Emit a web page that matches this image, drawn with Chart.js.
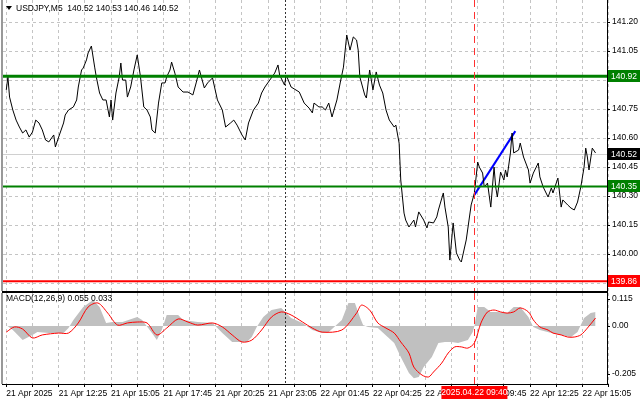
<!DOCTYPE html>
<html><head><meta charset="utf-8">
<script src="https://cdn.jsdelivr.net/npm/chart.js@4/dist/chart.umd.min.js"></script>
<style>
html,body{margin:0;padding:0;background:#fff;width:640px;height:401px;overflow:hidden}
#c1{position:absolute;left:0;top:0}
#c2{position:absolute;left:0;top:292px}
</style></head><body>
<canvas id="c1" width="640" height="292"></canvas>
<canvas id="c2" width="640" height="109"></canvas>
<script>
// ---- data (x = 5-minute bar index) ----
const priceX = [0,1,2,4,6,8,10,12,14,16,18,20,22,24,26,29,30,32,35,36,38,41,43,44,46,47,49,50,52,54,55,57,59,61,63,64,65,67,69,70,71,73,74,76,78,80,82,84,86,88,89,91,93,95,97,98,100,101,103,105,108,111,114,116,118,121,123,126,129,132,134,137,139,141,144,146,148,151,154,156,158,161,164,166,167,170,171,174,179,182,185,187,188,191,193,195,197,199,202,204,206,208,210,212,214,215,216,219,220,222,224,226,228,230,232,234,237,238,240,241,243,244,246,249,250,252,255,257,258,261,263,264,267,268,270,271,273,275,277,278,281,284,286,288,289,291,292,294,296,298,299,300,302,304,305,306,308,309,310,313,314,316,319,320,322,325,326,328,331,333,334,337,339,340,343,345,347,349,351,353,354,355,356,358,360];
const priceY = [140.849,140.916,140.812,140.745,140.693,140.657,140.626,140.642,140.605,140.631,140.693,140.678,140.642,140.590,140.580,140.616,140.554,140.605,140.678,140.719,140.745,140.761,140.797,140.864,140.952,140.962,141.004,141.040,141.076,140.967,140.916,140.833,140.797,140.797,140.709,140.797,140.693,140.833,140.916,140.988,140.900,140.900,140.812,140.864,140.952,141.030,140.916,140.761,140.745,140.709,140.642,140.626,140.781,140.885,140.885,140.916,140.952,140.993,140.936,140.864,140.838,140.838,140.823,140.885,140.952,140.859,140.885,140.911,140.797,140.745,140.657,140.678,140.693,140.667,140.616,140.590,140.678,140.745,140.781,140.833,140.864,140.900,140.936,140.978,140.926,140.874,140.926,140.864,140.838,140.781,140.755,140.730,140.781,140.761,140.761,140.745,140.781,140.709,140.797,140.885,140.967,141.133,141.055,141.123,141.107,141.055,140.916,140.823,140.807,140.952,140.849,140.942,140.874,140.833,140.745,140.693,140.657,140.667,140.574,140.383,140.212,140.176,140.140,140.176,140.140,140.218,140.176,140.135,140.166,140.161,140.192,140.228,140.316,140.243,140.140,139.969,140.161,140.006,139.969,139.959,140.073,140.254,140.316,140.476,140.450,140.419,140.347,140.367,140.243,140.450,140.347,140.295,140.424,140.383,140.435,140.399,140.523,140.626,140.523,140.538,140.574,140.502,140.435,140.367,140.419,140.471,140.399,140.347,140.295,140.342,140.316,140.393,140.243,140.280,140.254,140.238,140.228,140.269,140.347,140.450,140.548,140.502,140.435,140.548,140.523];
const histX = [0,4,10,16,19,26,35,38,41,47,53,57,61,65,71,80,83,89,92,95,98,105,108,117,126,132,138,147,150,153,157,162,168,174,181,187,193,197,205,209,213,216,218,221,227,233,237,241,246,249,252,255,260,264,268,272,276,282,285,286,288,292,296,300,306,310,314,319,322,326,333,339,345,349,353,357,360];
const histY = [0.004,-0.017,-0.060,-0.038,-0.026,-0.030,-0.030,-0.009,0.026,0.081,0.111,0.081,0.013,0.017,0.017,0.038,0.026,-0.030,-0.060,-0.017,0.047,0.047,0.026,0.017,0.013,-0.030,-0.068,-0.068,-0.047,-0.004,0.038,0.068,0.077,0.034,0.013,-0.017,-0.030,-0.026,0.026,0.098,0.098,0.038,0.004,-0.004,-0.009,-0.047,-0.072,-0.132,-0.200,-0.222,-0.217,-0.175,-0.132,-0.072,-0.068,-0.068,-0.072,-0.060,-0.026,0,0.081,0.081,0.060,0.060,0.055,0.081,0.081,0.038,-0.004,-0.017,-0.030,-0.038,-0.047,-0.026,0.034,0.055,0.060];
const sigX = [0,5,10,16,22,32,38,44,50,56,62,68,74,80,86,92,98,105,111,117,126,132,138,144,150,156,162,168,174,181,187,193,205,214,217,222,227,232,237,241,246,249,254,258,261,266,270,274,278,282,286,290,294,298,302,306,310,314,319,322,326,331,334,339,343,347,351,355,360];
const sigY = [-0.026,-0.004,-0.013,-0.051,-0.038,-0.030,-0.030,0.013,0.081,0.098,0.055,0.004,0.013,0.017,0.013,-0.038,-0.009,0.030,0.017,0.004,0.013,-0.004,-0.038,-0.068,-0.060,-0.017,0.038,0.060,0.047,0.017,-0.009,-0.026,-0.017,0.055,0.089,0.068,0.013,-0.009,-0.030,-0.068,-0.115,-0.175,-0.209,-0.217,-0.196,-0.158,-0.115,-0.089,-0.089,-0.094,-0.072,0.013,0.060,0.068,0.060,0.055,0.060,0.077,0.060,0.026,-0.004,-0.017,-0.030,-0.038,-0.047,-0.047,-0.038,-0.009,0.034];
const trendX = [286,311];
const trendY = [140.306,140.636];
const priceTicks = [139.85,140.00,140.15,140.30,140.45,140.60,140.75,140.90,141.05,141.20];
const macdTicks = [-0.205,0,0.115];
const timeTickX = [0,32,64,96,128,160,192,224,256,288,320,352];
const timeTickLabels = ["21 Apr 2025","21 Apr 12:25","21 Apr 15:05","21 Apr 17:45","21 Apr 20:25","21 Apr 23:05","22 Apr 01:45","22 Apr 04:25","22 Apr 07:05","22 Apr 09:45","22 Apr 12:25","22 Apr 15:05"];
const levels = [{v:140.92,c:'#008000',w:3},{v:140.35,c:'#008000',w:2},{v:139.86,c:'#ff0000',w:2}];
const lastPrice = 140.52;
const daySepX = 170, cursorX = 286, cursorLabel = "2025.04.22 09:40";
const titleText = "USDJPY,M5  140.52 140.53 140.46 140.52";
const macdTitle = "MACD(12,26,9) 0.055 0.033";

const FONT = "8.5px Liberation Sans";
Chart.defaults.font.family = "Liberation Sans";
Chart.defaults.font.size = 8.5;
Chart.defaults.color = "#000";
Chart.defaults.animation = false;

const pts = (xs, ys) => xs.map((x, i) => ({x, y: ys[i]}));
const gridTicks = []; for (let i = 0; i <= 368; i += 16) gridTicks.push(i);
const XMIN = -2, XMAX = 367;
const noPad = s => { s.paddingTop = 0; s.paddingBottom = 0; s.paddingLeft = 0; s.paddingRight = 0; };

function vline(ctx, ca, x, color, dash, w){
  ctx.save(); ctx.strokeStyle=color; ctx.lineWidth=w||1; ctx.setLineDash(dash);
  ctx.beginPath(); ctx.moveTo(Math.round(x)+0.5, ca.top); ctx.lineTo(Math.round(x)+0.5, ca.bottom); ctx.stroke(); ctx.restore();
}
function box(ctx, x, y, w, h, bg, txt, align){
  ctx.fillStyle=bg; ctx.fillRect(x, y, w, h);
  ctx.fillStyle='#fff'; ctx.textBaseline='middle'; ctx.textAlign=align||'left';
  ctx.fillText(txt, align==='center'? x+w/2 : x+3, y+h/2+0.5);
}

const topPlugin = {
  id:'top',
  beforeDatasetsDraw(c){
    const {ctx, chartArea:ca, scales:{x,y}} = c;
    ctx.save(); ctx.strokeStyle='#d0d0d0'; ctx.lineWidth=1;
    const yy=Math.round(y.getPixelForValue(lastPrice))+0.5;
    ctx.beginPath(); ctx.moveTo(ca.left,yy); ctx.lineTo(ca.right,yy); ctx.stroke(); ctx.restore();
    vline(ctx, ca, x.getPixelForValue(daySepX), '#333', [2,2]);
  },
  afterDatasetsDraw(c){
    const {ctx, chartArea:ca, scales:{x,y}} = c;
    levels.forEach(l=>{
      ctx.save(); ctx.strokeStyle=l.c; ctx.lineWidth=l.w;
      const yy=y.getPixelForValue(l.v);
      ctx.beginPath(); ctx.moveTo(ca.left,yy); ctx.lineTo(ca.right,yy); ctx.stroke(); ctx.restore();
    });
    vline(ctx, ca, x.getPixelForValue(cursorX), '#ff3030', [7,5]);
  },
  afterDraw(c){
    const {ctx, chartArea:ca, scales:{y}} = c;
    ctx.save();
    ctx.strokeStyle='#000'; ctx.lineWidth=1;
    ctx.strokeRect(ca.left-0.5, ca.top-0.5, ca.right-ca.left+1, ca.bottom-ca.top+1);
    ctx.fillStyle='#999'; ctx.fillRect(ca.left-2, ca.top, 2, ca.bottom-ca.top);
    ctx.font=FONT;
    levels.forEach(l=>box(ctx, ca.right+1, Math.round(y.getPixelForValue(l.v))-6, 32, 12, l.c, l.v.toFixed(2)));
    box(ctx, ca.right+1, Math.round(y.getPixelForValue(lastPrice))-6, 32, 12, '#000', lastPrice.toFixed(2));
    ctx.fillStyle='#000'; ctx.textAlign='left'; ctx.textBaseline='middle';
    ctx.beginPath(); ctx.moveTo(6,6); ctx.lineTo(12,6); ctx.lineTo(9,10); ctx.closePath(); ctx.fill();
    ctx.fillText(titleText, 16, 8.5);
    ctx.restore();
  }
};

new Chart(document.getElementById('c1'), {
  type:'line',
  data:{datasets:[
    {data:pts(priceX,priceY), borderColor:'#000', borderWidth:1, pointRadius:0, tension:0},
    {data:pts(trendX,trendY), borderColor:'#0000ff', borderWidth:2, pointRadius:0}
  ]},
  options:{
    responsive:false,
    layout:{padding:{left:3,top:0,right:0,bottom:0}},
    plugins:{legend:{display:false}, tooltip:{enabled:false}},
    scales:{
      x:{type:'linear', min:XMIN, max:XMAX,
        afterBuildTicks:s=>{s.ticks=gridTicks.map(v=>({value:v}));},
        afterFit:s=>{s.height=1; noPad(s);},
        ticks:{display:false}, border:{display:false, dash:[3,3]},
        grid:{color:'#c4c4c4', tickLength:0, lineWidth:1}
      },
      y:{position:'right', min:139.809, max:141.314,
        afterBuildTicks:s=>{s.ticks=priceTicks.map(v=>({value:v}));},
        afterFit:s=>{s.width=33; noPad(s);},
        ticks:{padding:2, callback:v=>v.toFixed(2)},
        border:{display:false, dash:[3,3]},
        grid:{color:'#c4c4c4', tickLength:3, tickColor:'#000'}
      }
    }
  },
  plugins:[topPlugin]
});

const botPlugin = {
  id:'bot',
  afterDatasetsDraw(c){
    const {ctx, chartArea:ca, scales:{x}} = c;
    vline(ctx, ca, x.getPixelForValue(daySepX), '#333', [2,2]);
    vline(ctx, ca, x.getPixelForValue(cursorX), '#ff3030', [7,5]);
  },
  afterDraw(c){
    const {ctx, chartArea:ca, scales:{x}} = c;
    ctx.save();
    ctx.strokeStyle='#000'; ctx.lineWidth=1;
    ctx.strokeRect(ca.left-0.5, ca.top-0.5, ca.right-ca.left+1, ca.bottom-ca.top+1);
    ctx.fillStyle='#999'; ctx.fillRect(ca.left-2, ca.top, 2, ca.bottom-ca.top);
    ctx.font=FONT;
    const cx=x.getPixelForValue(cursorX);
    box(ctx, cx-33, ca.bottom+2, 66, 13, '#ff0000', cursorLabel, 'center');
    ctx.fillStyle='#000'; ctx.textAlign='left'; ctx.textBaseline='middle';
    ctx.fillText(macdTitle, 6, ca.top+6);
    ctx.restore();
  }
};

new Chart(document.getElementById('c2'), {
  type:'line',
  data:{datasets:[
    {data:pts(sigX,sigY), borderColor:'#ff0000', borderWidth:1, pointRadius:0, tension:0.3},
    {data:pts(histX,histY), borderWidth:0, borderColor:'rgba(0,0,0,0)', backgroundColor:'#c0c0c0', fill:'origin', pointRadius:0, tension:0}
  ]},
  options:{
    responsive:false,
    layout:{padding:{left:3,top:1,right:0,bottom:0}},
    plugins:{legend:{display:false}, tooltip:{enabled:false}},
    scales:{
      x:{type:'linear', min:XMIN, max:XMAX,
        afterBuildTicks:s=>{s.ticks=gridTicks.map(v=>({value:v}));},
        afterFit:s=>{s.height=17; noPad(s);},
        ticks:{autoSkip:false, maxRotation:0, align:'start', padding:2,
          callback:v=>{const k=timeTickX.indexOf(v); return k>=0?timeTickLabels[k]:'';}},
        border:{display:false, dash:[3,3]},
        grid:{color:'#c4c4c4', tickLength:3, tickColor:'#000'}
      },
      y:{position:'right', min:-0.247, max:0.1406,
        afterBuildTicks:s=>{s.ticks=macdTicks.map(v=>({value:v}));},
        afterFit:s=>{s.width=33; noPad(s);},
        ticks:{padding:2, callback:v=>v===0?'0.00':String(v)},
        border:{display:false},
        grid:{drawOnChartArea:false, tickLength:3, tickColor:'#000'}
      }
    }
  },
  plugins:[botPlugin]
});
</script>
</body></html>
